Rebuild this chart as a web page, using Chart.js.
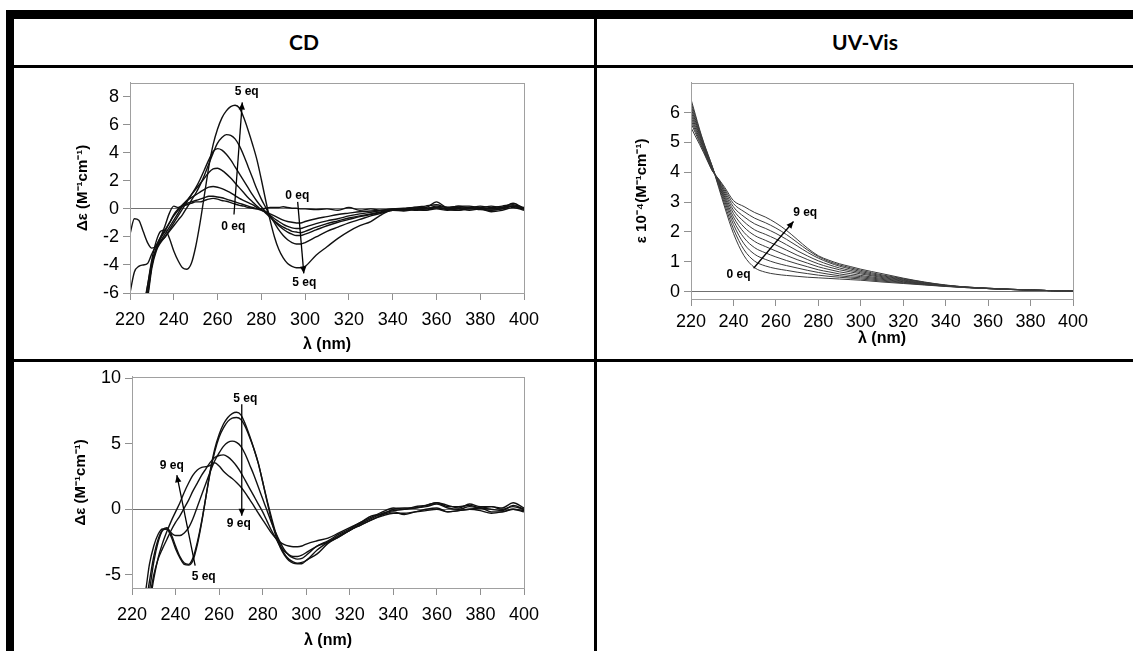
<!DOCTYPE html>
<html><head><meta charset="utf-8">
<script src="https://cdn.jsdelivr.net/npm/chart.js@4.4.1/dist/chart.umd.min.js"></script>
<style>
html,body{margin:0;padding:0;background:#fff;width:1133px;height:651px;overflow:hidden;}
.blk{position:absolute;background:#000;}
.hdr{position:absolute;font-family:Lato,"Open Sans",sans-serif;font-weight:700;font-size:21px;color:#000;text-align:center;line-height:28px;}
canvas{position:absolute;}
</style></head><body>
<div class="blk" style="left:6px;top:10px;width:1127px;height:9px"></div>
<div class="blk" style="left:6px;top:10px;width:8px;height:641px"></div>
<div class="blk" style="left:14px;top:65px;width:1119px;height:3px"></div>
<div class="blk" style="left:594px;top:19px;width:3px;height:632px"></div>
<div class="blk" style="left:14px;top:359px;width:1119px;height:3px"></div>
<div class="hdr" style="left:14px;top:28px;width:580px">CD</div>
<div class="hdr" style="left:597px;top:28px;width:536px">UV-Vis</div>
<canvas id="c1" width="490" height="291" style="left:60px;top:68px"></canvas>
<canvas id="c2" width="535" height="291" style="left:598px;top:68px"></canvas>
<canvas id="c3" width="490" height="289" style="left:60px;top:362px"></canvas>
<script>
// ---------- DATA ----------
const lamCD = [220,222,224,226,228,230,232,234,236,238,240,242,244,246,248,250,252,254,256,258,260,262,264,266,268,270,272,274,276,278,280,282,284,286,288,290,292,294,296,298,300,305,310,315,320,325,330,335,340,345,350,355,360,365,370,375,380,385,390,395,400];

// CD titration 0 -> 5 eq
const cd1_eq0   = [-1.8,-0.7,-0.8,-1.6,-2.4,-2.8,-2.6,-2.0,-1.2,-0.3,0.2,0.1,0.2,0.3,0.4,0.5,0.5,0.6,0.7,0.75,0.7,0.6,0.55,0.45,0.35,0.25,0.2,0.1,0.05,0.0,0.0,0.05,0.1,0.1,0.1,0.15,0.1,0.05,0.05,0.0,0.0,-0.05,0.0,-0.1,0.1,-0.1,0.0,-0.1,0.0,0.05,0.1,0.0,0.2,0.1,0.1,0.0,0.1,0.0,0.1,0.2,0.0];
const cd1_eq05  = [-6.0,-4.5,-4.1,-4.0,-3.9,-3.2,-2.6,-2.0,-1.5,-1.0,-0.5,-0.1,0.2,0.4,0.5,0.6,0.7,0.8,0.9,0.9,0.85,0.8,0.7,0.6,0.5,0.4,0.3,0.2,0.1,0.0,-0.1,-0.2,-0.35,-0.5,-0.65,-0.8,-0.9,-0.95,-1.0,-1.0,-0.9,-0.7,-0.55,-0.4,-0.3,-0.2,-0.15,-0.1,0.0,0.0,-0.1,0.0,0.1,0.0,-0.1,0.0,0.0,-0.1,0.0,0.2,0.0];
const cd1_eq1   = [-9,-8.5,-8,-7,-5.5,-3.8,-2.8,-2.1,-1.6,-1.0,-0.4,0.0,0.3,0.6,0.8,1.0,1.2,1.4,1.55,1.6,1.55,1.45,1.3,1.15,0.95,0.75,0.6,0.45,0.3,0.1,-0.05,-0.25,-0.45,-0.7,-0.9,-1.1,-1.25,-1.35,-1.4,-1.4,-1.3,-1.05,-0.85,-0.7,-0.5,-0.35,-0.25,-0.1,-0.05,-0.1,0.0,-0.1,0.0,-0.1,0.0,-0.1,0.0,-0.2,-0.1,0.1,-0.1];
const cd1_eq2   = [-9,-8.5,-8,-7.5,-6.0,-4.0,-2.9,-2.3,-1.8,-1.3,-0.8,-0.3,0.2,0.6,1.0,1.4,1.8,2.2,2.6,2.85,2.9,2.75,2.5,2.2,1.85,1.5,1.15,0.8,0.5,0.2,-0.05,-0.3,-0.6,-0.85,-1.1,-1.3,-1.45,-1.6,-1.65,-1.7,-1.6,-1.3,-1.05,-0.85,-0.65,-0.5,-0.35,-0.2,-0.1,-0.15,-0.05,-0.1,0.1,-0.05,-0.1,0.05,-0.05,-0.1,0.0,0.2,0.0];
const cd1_eq3   = [-9,-8.5,-8,-7.5,-6.2,-4.0,-2.8,-2.3,-2.0,-1.5,-1.0,-0.5,0.0,0.5,1.0,1.5,2.1,2.8,3.5,4.1,4.3,4.2,3.9,3.5,3.0,2.5,2.0,1.5,1.0,0.55,0.15,-0.2,-0.55,-0.9,-1.2,-1.45,-1.65,-1.8,-1.9,-1.9,-1.8,-1.5,-1.2,-0.95,-0.75,-0.55,-0.4,-0.25,-0.1,-0.1,0.0,0.05,0.1,0.0,0.05,0.1,0.05,0.0,0.1,0.2,0.0];
const cd1_eq4   = [-9,-8.5,-8,-7.6,-6.4,-4.2,-3.0,-2.4,-2.0,-1.6,-1.2,-0.8,-0.4,0.1,0.6,1.1,1.7,2.4,3.2,4.0,4.7,5.1,5.3,5.25,5.0,4.5,3.8,3.0,2.2,1.4,0.7,0.1,-0.5,-1.0,-1.5,-1.9,-2.2,-2.4,-2.5,-2.5,-2.4,-2.0,-1.6,-1.3,-1.0,-0.75,-0.5,-0.3,-0.1,-0.05,0.1,0.2,0.3,0.1,0.2,0.1,0.2,0.1,0.2,0.3,0.1];
const cd1_eq5   = [-9,-9,-8.5,-7.5,-5.5,-3.6,-2.3,-1.6,-1.5,-2.1,-3.0,-3.7,-4.2,-4.3,-3.9,-2.7,-1.0,1.0,3.0,4.6,5.7,6.5,7.0,7.3,7.4,7.2,6.5,5.6,4.6,3.5,2.1,0.6,-0.8,-2.0,-2.9,-3.5,-3.9,-4.1,-4.2,-4.2,-4.1,-3.3,-2.7,-2.1,-1.6,-1.2,-0.9,-0.4,-0.05,0.0,0.1,0.1,0.5,0.1,0.2,0.2,0.1,0.2,0.1,0.4,0.0];

// CD titration 5 -> 9 eq
const cd3_eq5 = [-9,-9,-8.5,-7.5,-5.5,-3.6,-2.3,-1.6,-1.5,-2.1,-3.0,-3.7,-4.2,-4.25,-3.9,-2.7,-1.0,1.0,3.0,4.6,5.7,6.5,7.0,7.3,7.4,7.2,6.5,5.6,4.6,3.5,2.1,0.6,-0.8,-2.0,-2.9,-3.5,-3.9,-4.1,-4.15,-4.15,-3.9,-3.4,-2.6,-2.1,-1.6,-1.2,-0.8,-0.5,-0.3,-0.3,-0.2,0.0,0.1,-0.2,-0.1,0.0,0.1,-0.2,-0.2,0.0,-0.2];
const cd3_eq6 = [-9,-9,-8.5,-7.8,-6.2,-4.0,-2.5,-1.6,-1.4,-1.9,-2.8,-3.6,-4.1,-4.2,-3.7,-2.5,-0.9,1.0,2.9,4.4,5.5,6.2,6.7,6.95,7.0,6.85,6.3,5.5,4.6,3.5,2.1,0.7,-0.6,-1.8,-2.7,-3.4,-3.8,-4.0,-4.1,-4.05,-3.9,-3.1,-2.5,-2.0,-1.6,-1.1,-0.7,-0.3,-0.1,0.0,0.1,0.2,0.4,0.1,0.0,0.2,0.1,0.0,-0.1,0.3,0.0];
const cd3_eq7 = [-9,-8.5,-7.8,-6.5,-4.2,-2.8,-1.9,-1.5,-1.5,-1.8,-2.0,-2.0,-1.8,-1.4,-0.7,0.2,1.1,2.0,2.9,3.7,4.3,4.8,5.1,5.2,5.1,4.8,4.2,3.4,2.6,1.7,0.8,-0.1,-1.0,-1.8,-2.5,-3.1,-3.5,-3.7,-3.8,-3.75,-3.5,-2.8,-2.4,-1.9,-1.5,-1.0,-0.6,-0.2,0.1,0.0,0.2,0.3,0.5,0.3,0.1,0.4,0.2,0.2,0.1,0.5,0.1];
const cd3_eq8 = [-9,-9,-8.5,-8,-6.8,-5.0,-3.8,-3.0,-2.3,-1.6,-1.0,-0.5,0.1,0.7,1.4,2.0,2.6,3.1,3.6,3.95,4.1,4.15,4.0,3.7,3.3,2.8,2.2,1.6,1.0,0.4,-0.2,-0.9,-1.6,-2.2,-2.8,-3.2,-3.45,-3.6,-3.6,-3.5,-3.3,-2.8,-2.5,-2.1,-1.6,-1.2,-0.8,-0.4,0.0,0.1,0.1,0.3,0.5,0.2,0.2,0.3,0.1,0.2,0.0,0.2,0.0];
const cd3_eq9 = [-9,-9,-8.8,-8.2,-7.2,-5.3,-3.7,-2.6,-1.7,-0.9,-0.2,0.5,1.3,2.0,2.6,3.0,3.2,3.25,3.35,3.55,3.3,2.9,2.6,2.35,2.05,1.7,1.25,0.75,0.25,-0.3,-0.8,-1.3,-1.8,-2.2,-2.5,-2.7,-2.8,-2.85,-2.85,-2.8,-2.65,-2.4,-2.2,-1.8,-1.4,-1.0,-0.5,-0.4,-0.2,-0.4,-0.2,-0.1,0.0,-0.2,-0.1,0.0,-0.1,-0.3,-0.2,0.0,-0.1];

// UV-Vis titration 0 -> 9 eq (epsilon x 10^-4)
const lamUV = [220,222,224,226,228,230,233,236,240,245,250,255,260,265,270,275,280,285,290,295,300,310,320,330,340,350,360,370,380,390,400];
const uv_eq0 = [6.45,5.95,5.45,5.0,4.6,4.2,3.5,2.8,1.95,1.2,0.8,0.65,0.58,0.54,0.51,0.48,0.46,0.44,0.42,0.40,0.38,0.32,0.27,0.22,0.17,0.13,0.10,0.07,0.05,0.03,0.01];
const uv_eq1 = [6.35,5.88,5.4,4.97,4.58,4.2,3.55,2.9,2.1,1.4,1.02,0.86,0.77,0.71,0.65,0.6,0.55,0.51,0.48,0.45,0.42,0.35,0.29,0.23,0.18,0.13,0.10,0.07,0.05,0.03,0.01];
const uv_eq2 = [6.25,5.8,5.35,4.93,4.55,4.18,3.6,3.0,2.25,1.6,1.25,1.08,0.96,0.87,0.79,0.71,0.64,0.58,0.53,0.49,0.46,0.38,0.31,0.24,0.18,0.14,0.10,0.07,0.05,0.03,0.01];
const uv_eq3 = [6.15,5.73,5.3,4.9,4.52,4.16,3.63,3.08,2.38,1.8,1.47,1.3,1.16,1.04,0.93,0.83,0.73,0.66,0.59,0.54,0.5,0.41,0.33,0.25,0.19,0.14,0.10,0.07,0.05,0.03,0.01];
const uv_eq4 = [6.05,5.65,5.25,4.86,4.49,4.14,3.66,3.15,2.5,1.98,1.68,1.51,1.36,1.21,1.07,0.95,0.83,0.74,0.66,0.6,0.54,0.44,0.35,0.26,0.19,0.14,0.10,0.07,0.05,0.03,0.01];
const uv_eq5 = [5.95,5.57,5.19,4.82,4.46,4.12,3.69,3.22,2.62,2.16,1.88,1.72,1.56,1.39,1.22,1.07,0.93,0.82,0.73,0.66,0.59,0.47,0.37,0.27,0.2,0.14,0.10,0.07,0.05,0.03,0.01];
const uv_eq6 = [5.85,5.49,5.13,4.78,4.43,4.1,3.72,3.29,2.73,2.34,2.07,1.92,1.76,1.57,1.37,1.19,1.03,0.9,0.79,0.71,0.63,0.5,0.39,0.28,0.2,0.14,0.11,0.08,0.05,0.03,0.01];
const uv_eq7 = [5.75,5.41,5.07,4.74,4.4,4.08,3.74,3.36,2.84,2.51,2.27,2.12,1.95,1.75,1.53,1.31,1.12,0.97,0.85,0.76,0.67,0.53,0.41,0.3,0.21,0.15,0.11,0.08,0.05,0.03,0.01];
const uv_eq8 = [5.65,5.33,5.01,4.7,4.37,4.06,3.76,3.42,2.95,2.68,2.46,2.31,2.13,1.91,1.65,1.39,1.17,1.01,0.89,0.8,0.71,0.56,0.43,0.31,0.21,0.15,0.11,0.08,0.05,0.03,0.01];
const uv_eq9 = [5.5,5.22,4.94,4.65,4.34,4.05,3.78,3.48,3.05,2.85,2.65,2.5,2.3,2.05,1.75,1.45,1.2,1.05,0.93,0.84,0.75,0.6,0.45,0.32,0.22,0.15,0.11,0.08,0.05,0.03,0.01];

// ticks
const xTicks = [220,240,260,280,300,320,340,360,380,400];
const yTicksCD1 = [-6,-4,-2,0,2,4,6,8];
const yTicksUV = [0,1,2,3,4,5,6];
const yTicksCD3 = [-5,0,5,10];

// ---------- PLUGINS ----------
const annoPlugin = {
  id: 'anno',
  afterDatasetsDraw(chart, args, opts) {
    const {ctx, scales: {x, y}} = chart;
    ctx.save();
    ctx.strokeStyle = '#000'; ctx.fillStyle = '#000'; ctx.lineWidth = 1.3;
    (opts.arrows || []).forEach(a => {
      const x1 = x.getPixelForValue(a[0]), y1 = y.getPixelForValue(a[1]);
      const x2 = x.getPixelForValue(a[2]), y2 = y.getPixelForValue(a[3]);
      ctx.beginPath(); ctx.moveTo(x1, y1); ctx.lineTo(x2, y2); ctx.stroke();
      const ang = Math.atan2(y2 - y1, x2 - x1), L = 7, W = 3.2;
      ctx.beginPath();
      ctx.moveTo(x2, y2);
      ctx.lineTo(x2 - L * Math.cos(ang) + W * Math.sin(ang), y2 - L * Math.sin(ang) - W * Math.cos(ang));
      ctx.lineTo(x2 - L * Math.cos(ang) - W * Math.sin(ang), y2 - L * Math.sin(ang) + W * Math.cos(ang));
      ctx.closePath(); ctx.fill();
    });
    ctx.font = 'bold 12px "Liberation Sans", Arial, sans-serif';
    ctx.textAlign = 'center'; ctx.textBaseline = 'middle';
    (opts.labels || []).forEach(l => ctx.fillText(l[0], x.getPixelForValue(l[1]), y.getPixelForValue(l[2])));
    ctx.restore();
  }
};
const framePlugin = {
  id: 'frame',
  afterDraw(chart) {
    const {ctx, chartArea: a} = chart;
    ctx.save();
    ctx.strokeStyle = '#a0a0a0'; ctx.lineWidth = 1;
    ctx.strokeRect(Math.round(a.left) + 0.5, Math.round(a.top) + 0.5, Math.round(a.right - a.left), Math.round(a.bottom - a.top));
    ctx.restore();
  }
};

const FONT = '"Liberation Sans", Arial, sans-serif';

function makeChart(id, c) {
  return new Chart(document.getElementById(id), {
    type: 'line',
    data: {
      datasets: c.series.map((s, i) => ({
        label: c.names[i],
        data: c.lam.map((l, j) => ({x: l, y: s[j]})),
        borderColor: c.color, borderWidth: c.lw, pointRadius: 0, fill: false,
        cubicInterpolationMode: 'monotone'
      }))
    },
    options: {
      responsive: false, animation: false, devicePixelRatio: 1,
      layout: {padding: c.pad},
      plugins: {legend: {display: false}, tooltip: {enabled: false}, anno: c.anno},
      scales: {
        x: {
          type: 'linear', min: 220, max: 400,
          afterBuildTicks: s => { s.ticks = xTicks.map(v => ({value: v})); },
          afterFit: s => { s.height = c.xh; },
          ticks: {color: '#000', font: {family: FONT, size: 18}, padding: c.xpad, maxRotation: 0},
          grid: {drawOnChartArea: false, drawTicks: true, tickLength: 7, tickColor: '#909090'},
          border: {display: true, color: '#a0a0a0'},
          title: {display: true, text: c.xtitle, color: '#000', font: {family: FONT, size: 16, weight: 'bold'}, padding: {top: 0, bottom: c.xtpad}}
        },
        y: {
          type: 'linear', min: c.ymin, max: c.ymax,
          afterBuildTicks: s => { s.ticks = c.yticks.map(v => ({value: v})); },
          afterFit: s => { s.width = c.yw; },
          ticks: {color: '#000', font: {family: FONT, size: 18}, padding: 4},
          grid: {drawOnChartArea: true, drawTicks: true, tickLength: 7, tickColor: '#909090',
                 color: ctx => (ctx.tick && ctx.tick.value === 0) ? '#707070' : 'rgba(0,0,0,0)'},
          border: {display: true, color: '#a0a0a0'},
          title: {display: true, text: c.ytitle, color: '#000', font: {family: FONT, size: 15, weight: 'bold'}, padding: {top: c.ytpad, bottom: 0}}
        }
      }
    },
    plugins: [annoPlugin, framePlugin]
  });
}

makeChart('c1', {
  lam: lamCD,
  series: [cd1_eq0, cd1_eq05, cd1_eq1, cd1_eq2, cd1_eq3, cd1_eq4, cd1_eq5],
  names: ['0 eq', '0.5 eq', '1 eq', '2 eq', '3 eq', '4 eq', '5 eq'],
  color: '#111', lw: 1.4,
  pad: {top: 7, right: 26, left: 0, bottom: 0}, yw: 70, xh: 66, xpad: 9, xtpad: 5, ytpad: 14,
  ymin: -6, ymax: 9, yticks: yTicksCD1,
  xtitle: 'λ (nm)', ytitle: 'Δε (M⁻¹cm⁻¹)',
  anno: {
    arrows: [[267.5, -0.4, 271.3, 7.6], [296.6, 0.5, 299.4, -4.6]],
    labels: [['5 eq', 273.3, 8.4], ['0 eq', 267.2, -1.3], ['0 eq', 296.4, 0.95], ['5 eq', 299.6, -5.25]]
  }
});

makeChart('c2', {
  lam: lamUV,
  series: [uv_eq0, uv_eq1, uv_eq2, uv_eq3, uv_eq4, uv_eq5, uv_eq6, uv_eq7, uv_eq8, uv_eq9],
  names: ['0 eq','1 eq','2 eq','3 eq','4 eq','5 eq','6 eq','7 eq','8 eq','9 eq'],
  color: '#3a3a3a', lw: 1,
  pad: {top: 12, right: 60, left: 0, bottom: 0}, yw: 93, xh: 60, xpad: 5, xtpad: 11, ytpad: 35,
  ymin: -0.25, ymax: 7, yticks: yTicksUV,
  xtitle: 'λ (nm)', ytitle: 'ε 10⁻⁴(M⁻¹cm⁻¹)',
  anno: {
    arrows: [[249.5, 0.78, 268.3, 2.35]],
    labels: [['9 eq', 273.8, 2.65], ['0 eq', 242.4, 0.58]]
  }
});

makeChart('c3', {
  lam: lamCD,
  series: [cd3_eq5, cd3_eq6, cd3_eq7, cd3_eq8, cd3_eq9],
  names: ['5 eq', '6 eq', '7 eq', '8 eq', '9 eq'],
  color: '#111', lw: 1.4,
  pad: {top: 8, right: 26, left: 0, bottom: 0}, yw: 72, xh: 63, xpad: 9, xtpad: 1, ytpad: 12,
  ymin: -6, ymax: 10.1, yticks: yTicksCD3,
  xtitle: 'λ (nm)', ytitle: 'Δε (M⁻¹cm⁻¹)',
  anno: {
    arrows: [[270.4, 8.0, 270.4, -0.5], [249, -4.3, 240.6, 2.6]],
    labels: [['5 eq', 272, 8.45], ['9 eq', 269, -1.1], ['9 eq', 238.3, 3.3], ['5 eq', 252.9, -5.1]]
  }
});
</script>
</body></html>
